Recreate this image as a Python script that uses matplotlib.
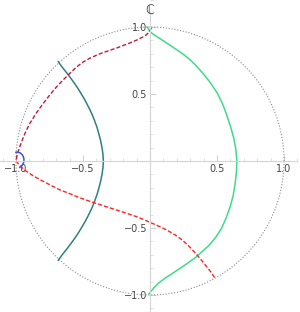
import numpy as np
import matplotlib.pyplot as plt
from matplotlib.ticker import MultipleLocator

# curve points (complex plane, re / im)
red_top_x = [0.01, 0.003, -0.01, -0.03, -0.06, -0.1, -0.15, -0.2, -0.25, -0.3, -0.35, -0.4, -0.45,
             -0.5, -0.55, -0.6, -0.65, -0.7, -0.75, -0.8, -0.85, -0.9, -0.94, -0.97, -0.99, -1.0]
red_top_y = [0.995, 0.978, 0.958, 0.94, 0.922, 0.902, 0.881, 0.862, 0.843, 0.826, 0.809, 0.789, 0.766,
             0.738, 0.70, 0.652, 0.603, 0.55, 0.49, 0.425, 0.355, 0.275, 0.19, 0.11, 0.05, 0.0]

red_low_x = [-1.0, -0.97, -0.93, -0.88, -0.82, -0.75, -0.672, -0.6, -0.547, -0.48, -0.403, -0.33,
             -0.249, -0.17, -0.099, -0.05, 0.0, 0.06, 0.124, 0.19, 0.249, 0.3, 0.348, 0.39, 0.423,
             0.455, 0.485]
red_low_y = [0.0, -0.035, -0.072, -0.105, -0.14, -0.176, -0.216, -0.243, -0.266, -0.29, -0.316, -0.34,
             -0.366, -0.392, -0.416, -0.436, -0.458, -0.484, -0.515, -0.553, -0.597, -0.645, -0.698,
             -0.748, -0.789, -0.83, -0.875]

teal_x = [-0.684, -0.655, -0.615, -0.578, -0.543, -0.512, -0.483, -0.457, -0.433, -0.413, -0.395,
          -0.381, -0.368, -0.358, -0.351, -0.348, -0.351, -0.358, -0.368, -0.381, -0.395, -0.413,
          -0.433, -0.457, -0.483, -0.512, -0.543, -0.578, -0.615, -0.655, -0.684]
teal_y = [0.741, 0.70, 0.65, 0.60, 0.55, 0.50, 0.45, 0.40, 0.35, 0.30, 0.25, 0.20, 0.15, 0.10, 0.05,
          0.0, -0.05, -0.10, -0.15, -0.20, -0.25, -0.30, -0.35, -0.40, -0.45, -0.50, -0.55, -0.60,
          -0.65, -0.70, -0.741]

green_x = [-0.02, -0.008, 0.008, 0.04, 0.1, 0.15, 0.2, 0.25, 0.3, 0.35, 0.4, 0.45, 0.5, 0.54, 0.57,
           0.6, 0.625, 0.64, 0.648, 0.645, 0.635, 0.62, 0.598, 0.57, 0.535, 0.49, 0.44, 0.39, 0.34,
           0.28, 0.224, 0.17, 0.112, 0.065, 0.03, 0.008, -0.01]
green_y = [1.0, 0.978, 0.958, 0.935, 0.897, 0.863, 0.83, 0.795, 0.755, 0.705, 0.648, 0.585, 0.51, 0.43,
           0.35, 0.26, 0.17, 0.09, 0.0, -0.08, -0.17, -0.26, -0.34, -0.42, -0.50, -0.57, -0.63,
           -0.675, -0.72, -0.763, -0.801, -0.837, -0.875, -0.91, -0.945, -0.972, -0.995]

blue_x = [-1.0, -0.985, -0.968, -0.953, -0.944, -0.94, -0.942, -0.95, -0.96, -0.972]
blue_y = [0.065, 0.066, 0.06, 0.047, 0.03, 0.01, -0.01, -0.027, -0.04, -0.047]

ticks = [-1.0, -0.5, 0.5, 1.0]

fig = plt.figure(figsize=(3, 3.12), dpi=100)
ax = fig.add_axes([0, 0, 1, 1])
ax.set_xlim(-1.119, 1.119)
ax.set_ylim(-1.127, 1.2015)

# axes through origin, Mathematica style
for s in ['top', 'right']:
    ax.spines[s].set_visible(False)
ax.spines['left'].set_position('zero')
ax.spines['bottom'].set_position('zero')
ax.spines['left'].set_bounds(-1.127, 1.11)
ax.spines['bottom'].set_bounds(-1.119, 1.1)
for s in ['left', 'bottom']:
    ax.spines[s].set_color('#d4d4d4')
    ax.spines[s].set_linewidth(0.8)

ax.set_xticks(ticks)
ax.set_yticks(ticks)
ax.xaxis.set_minor_locator(MultipleLocator(0.1))
ax.yaxis.set_minor_locator(MultipleLocator(0.1))
ax.tick_params(which='major', direction='in', length=4, width=0.6, color='#c8c8c8',
               labelsize=7, labelcolor='#444444', pad=2)
ax.tick_params(which='minor', direction='in', length=2, width=0.5, color='#d4d4d4')
ax.set_xticklabels(['\u22121.0', '\u22120.5', '0.5', '1.0'])
ax.set_yticklabels(['\u22121.0', '\u22120.5', '0.5', '1.0'])

# unit circle
t = np.linspace(0, 2 * np.pi, 400)
ax.plot(np.cos(t), np.sin(t), color='#8a8a8a', lw=0.8, linestyle=(0, (1, 1.6)))

ax.plot(teal_x, teal_y, color='#2f8080', lw=1.1)
ax.plot(green_x, green_y, color='#3ddc88', lw=1.1)
ax.plot(red_top_x, red_top_y, color='#c01a3c', lw=1.0, dashes=(3, 1.5))
ax.plot(red_low_x, red_low_y, color='#ff2222', lw=1.0, dashes=(3, 1.5))
ax.plot(blue_x, blue_y, color='#3b55d0', lw=1.1)

ax.text(0, 1.12, '\u2102', ha='center', va='center', fontsize=9, color='#333333')

fig.savefig('out.png', dpi=100)
